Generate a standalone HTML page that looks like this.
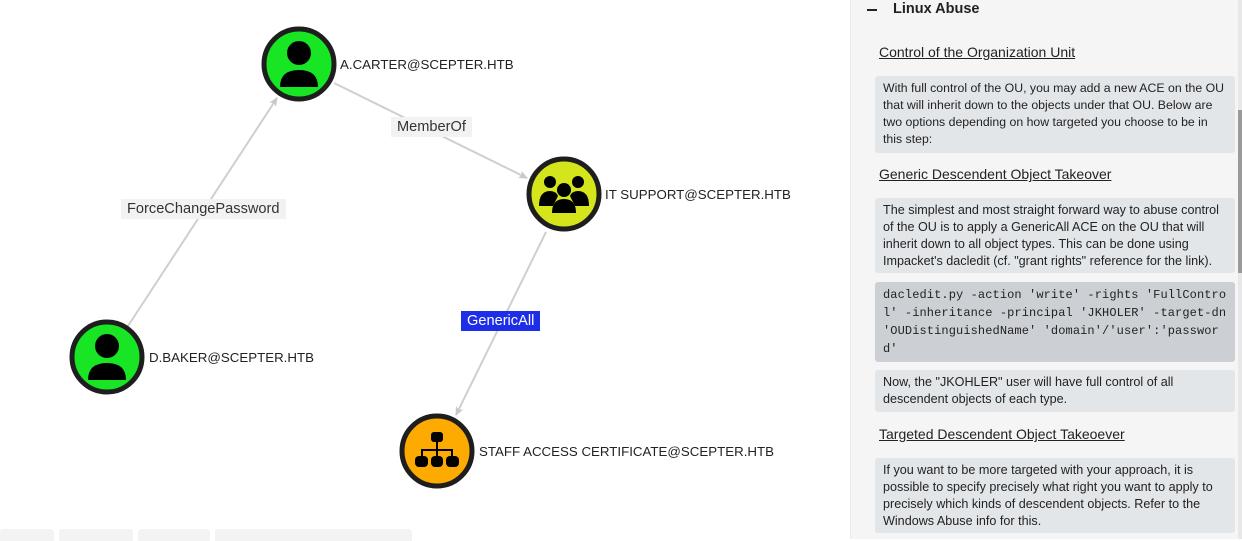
<!DOCTYPE html>
<html><head><meta charset="utf-8"><style>
*{margin:0;padding:0;box-sizing:border-box}
body{width:1242px;height:539px;overflow:hidden;background:#fff;font-family:"Liberation Sans",sans-serif;position:relative}
.lbl{position:absolute;font-size:13.3px;color:#222;white-space:nowrap}
.el{position:absolute;background:#f2f2f2;font-size:14.6px;color:#333;padding:0 6px;line-height:20px;height:20px;white-space:nowrap}
#panel{position:absolute;left:850px;top:0;width:392px;height:539px;background:#f5f5f5;border-left:1px solid #e8e8e8}
.h{position:absolute;left:28px;font-size:14px;color:#222;text-decoration:underline}
.box{position:absolute;left:24px;width:360px;background:#e3e6e9;border-radius:3px;font-size:12.6px;line-height:17px;color:#222;padding:4px 8px}
.code{background:#ccd0d4;font-family:"Liberation Mono",monospace;font-size:12px;line-height:18px;letter-spacing:.1px}
.tab{position:absolute;top:529px;height:12px;background:#f3f3f3;border-radius:3px 3px 0 0}
</style></head><body>
<svg width="850" height="539" style="position:absolute;left:0;top:0">
<defs><marker id="a" markerWidth="10" markerHeight="10" refX="8" refY="5" orient="auto" markerUnits="userSpaceOnUse"><path d="M0,1 L9,5 L0,9 L2,5z" fill="#c8c8c8"/></marker></defs>
<g stroke="#cfcfcf" stroke-width="2" fill="none">
<line x1="128" y1="326" x2="277" y2="98" marker-end="url(#a)"/>
<line x1="334" y1="83" x2="527" y2="178" marker-end="url(#a)"/>
<line x1="546" y1="232" x2="456" y2="415" marker-end="url(#a)"/>
</g>
<g stroke="#1e1e1e" stroke-width="5">
<circle cx="299" cy="64" r="35" fill="#18e624"/>
<circle cx="107" cy="357" r="35" fill="#18e624"/>
<circle cx="564" cy="194" r="35" fill="#d4e51b"/>
<circle cx="437" cy="451" r="35" fill="#fdab00"/>
</g>
<g fill="#000">
<circle cx="299" cy="53" r="12"/><path d="M280,87 Q280,70 299,70 Q318,70 318,87z"/>
<circle cx="107" cy="346" r="12"/><path d="M88,380 Q88,363 107,363 Q126,363 126,380z"/>
<circle cx="550" cy="182" r="6"/><circle cx="578" cy="182" r="6"/><circle cx="564" cy="190" r="7"/>
<path d="M539,206 Q539,191 550,191 Q556,191 558,196 L553,206z"/><path d="M589,206 Q589,191 578,191 Q572,191 570,196 L575,206z"/>
<path d="M552,213 Q552,199 564,199 Q576,199 576,213z"/>
<rect x="431" y="432" width="12" height="10" rx="3"/><rect x="436" y="442" width="2" height="8"/>
<rect x="421" y="449" width="32" height="2"/><rect x="421" y="449" width="2" height="7"/><rect x="451" y="449" width="2" height="7"/><rect x="436" y="449" width="2" height="7"/>
<rect x="415" y="456" width="13" height="11" rx="4"/><rect x="431" y="456" width="12" height="11" rx="4"/><rect x="446" y="456" width="13" height="11" rx="4"/>
</g>
</svg>
<div class="lbl" style="left:340px;top:57px">A.CARTER@SCEPTER.HTB</div>
<div class="lbl" style="left:149px;top:350px">D.BAKER@SCEPTER.HTB</div>
<div class="lbl" style="left:605px;top:187px">IT SUPPORT@SCEPTER.HTB</div>
<div class="lbl" style="left:479px;top:444px">STAFF ACCESS CERTIFICATE@SCEPTER.HTB</div>
<div class="el" style="left:121px;top:199px">ForceChangePassword</div>
<div class="el" style="left:391px;top:117px">MemberOf</div>
<div class="el" style="left:461px;top:311px;background:#1e2de8;color:#fff">GenericAll</div>
<div class="tab" style="left:0;width:54px"></div><div class="tab" style="left:59px;width:74px"></div><div class="tab" style="left:138px;width:72px"></div><div class="tab" style="left:215px;width:197px"></div>
<div id="panel">
<div style="position:absolute;left:16px;top:9px;width:10px;height:2px;background:#222"></div>
<div style="position:absolute;left:42px;top:1px;font-size:14.5px;font-weight:bold;color:#222">Linux Abuse</div>
<div class="h" style="top:44px">Control of the Organization Unit</div>
<div class="box" style="top:76px;height:77px;font-size:12.3px">With full control of the OU, you may add a new ACE on the OU that will inherit down to the objects under that OU. Below are two options depending on how targeted you choose to be in this step:</div>
<div class="h" style="top:166px">Generic Descendent Object Takeover</div>
<div class="box" style="top:198px;height:75px">The simplest and most straight forward way to abuse control of the OU is to apply a GenericAll ACE on the OU that will inherit down to all object types. This can be done using Impacket's dacledit (cf. "grant rights" reference for the link).</div>
<div class="box code" style="top:282px;height:80px;word-break:break-all">dacledit.py -action 'write' -rights 'FullControl' -inheritance -principal 'JKHOLER' -target-dn 'OUDistinguishedName' 'domain'/'user':'password'</div>
<div class="box" style="top:370px;height:42px">Now, the "JKOHLER" user will have full control of all descendent objects of each type.</div>
<div class="h" style="top:426px">Targeted Descendent Object Takeoever</div>
<div class="box" style="top:458px;height:75px">If you want to be more targeted with your approach, it is possible to specify precisely what right you want to apply to precisely which kinds of descendent objects. Refer to the Windows Abuse info for this.</div>
<div style="position:absolute;left:387px;top:0;width:5px;height:539px;background:#e8e8e8"></div>
<div style="position:absolute;left:387px;top:110px;width:5px;height:163px;background:#9a9a9a"></div>
</div>
</body></html>
